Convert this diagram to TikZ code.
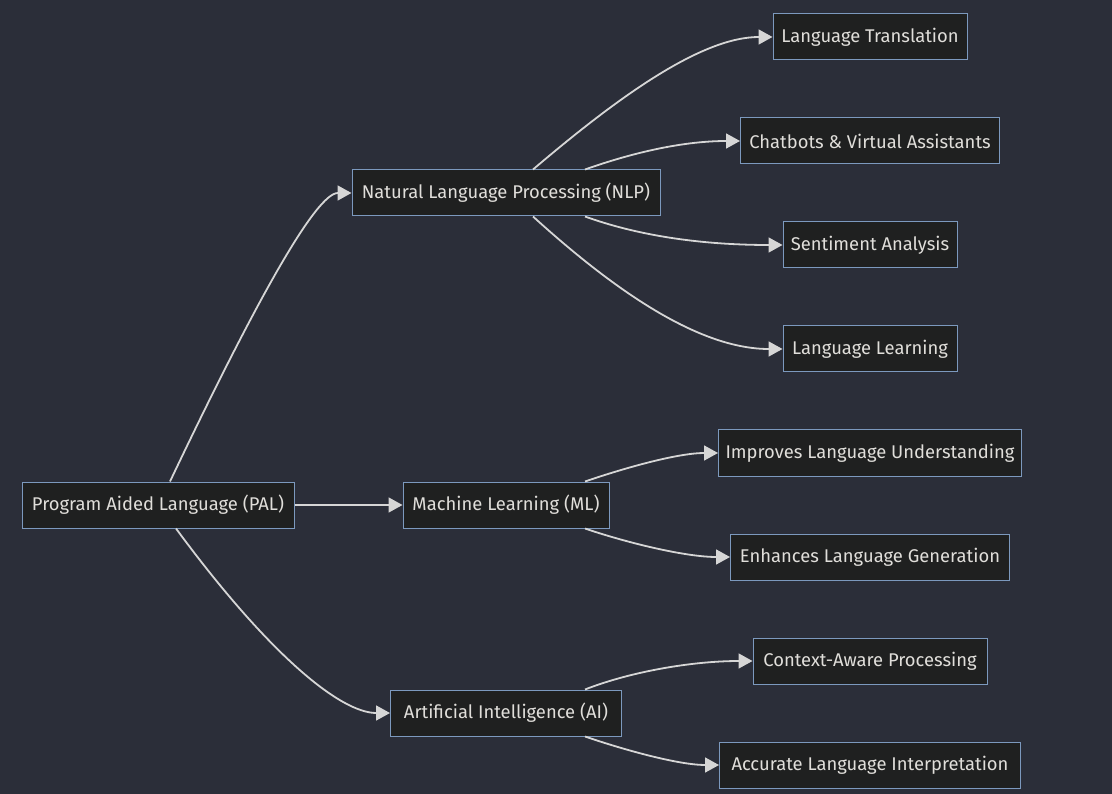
\documentclass[tikz,border=0pt]{standalone}
\usepackage{fontspec}
\setmainfont{Fira Sans}
\usetikzlibrary{arrows.meta,calc}
\definecolor{bgc}{RGB}{43,46,57}
\definecolor{nodefill}{RGB}{31,32,32}
\definecolor{nodeborder}{RGB}{124,153,190}
\definecolor{txt}{RGB}{224,222,218}
\definecolor{edgec}{RGB}{214,214,214}
\begin{document}
\begin{tikzpicture}[x=1pt,y=-1pt,
  box/.style={draw=nodeborder,fill=nodefill,line width=1pt,text=txt,
    font=\fontsize{18.4}{21}\selectfont,minimum height=46pt,inner xsep=2pt,anchor=center},
  edge/.style={draw=edgec,line width=1.8pt,-{Triangle[length=14pt,width=15pt]}}]
\fill[bgc] (0,0) rectangle (1112,794);
\useasboundingbox (0,0) rectangle (1112,794);
\node[box,minimum width=272pt] (pal) at (158,505) {Program Aided Language (PAL)};
\node[box,minimum width=308pt] (nlp) at (506,193) {Natural Language Processing (NLP)};
\node[box,minimum width=206pt] (ml) at (506,505) {Machine Learning (ML)};
\node[box,minimum width=231pt] (ai) at (506,713) {Artificial Intelligence (AI)};
\node[box,minimum width=194pt] (lt) at (870,37) {Language Translation};
\node[box,minimum width=259pt] (cb) at (870,141) {Chatbots \& Virtual Assistants};
\node[box,minimum width=174pt] (sa) at (870,245) {Sentiment Analysis};
\node[box,minimum width=174pt] (ll) at (870,349) {Language Learning};
\node[box,minimum width=303pt] (ilu) at (870,453) {Improves Language Understanding};
\node[box,minimum width=279pt] (elg) at (870,557) {Enhances Language Generation};
\node[box,minimum width=234pt] (cap) at (870,661) {Context-Aware Processing};
\node[box,minimum width=301pt] (ali) at (870,765) {Accurate Language Interpretation};
% PAL edges
\draw[edge] ($(pal.north)+(12,0)$) .. controls ($(pal.north)+(100,-185)$) and ($(nlp.west)+(-35,0)$) .. (nlp.west);
\draw[edge] (pal.east) -- (ml.west);
\draw[edge] ($(pal.south)+(18,0)$) .. controls ($(pal.south)+(110,125)$) and ($(ai.west)+(-50,0)$) .. (ai.west);
% NLP edges
\draw[edge] ($(nlp.north)+(27,0)$) .. controls ($(nlp.north)+(115,-75)$) and ($(lt.west)+(-70,0)$) .. (lt.west);
\draw[edge] ($(nlp.north)+(79,0)$) .. controls ($(nlp.north)+(130,-18)$) and ($(cb.west)+(-55,0)$) .. (cb.west);
\draw[edge] ($(nlp.south)+(79,0)$) .. controls ($(nlp.south)+(140,22)$) and ($(sa.west)+(-70,0)$) .. (sa.west);
\draw[edge] ($(nlp.south)+(27,0)$) .. controls ($(nlp.south)+(115,80)$) and ($(ll.west)+(-80,0)$) .. (ll.west);
% ML edges
\draw[edge] ($(ml.north)+(79,0)$) .. controls ($(ml.north)+(120,-14)$) and ($(ilu.west)+(-40,0)$) .. (ilu.west);
\draw[edge] ($(ml.south)+(79,0)$) .. controls ($(ml.south)+(120,14)$) and ($(elg.west)+(-45,0)$) .. (elg.west);
% AI edges
\draw[edge] ($(ai.north)+(79,0)$) .. controls ($(ai.north)+(125,-18)$) and ($(cap.west)+(-60,0)$) .. (cap.west);
\draw[edge] ($(ai.south)+(79,0)$) .. controls ($(ai.south)+(120,14)$) and ($(ali.west)+(-40,0)$) .. (ali.west);
\end{tikzpicture}
\end{document}
